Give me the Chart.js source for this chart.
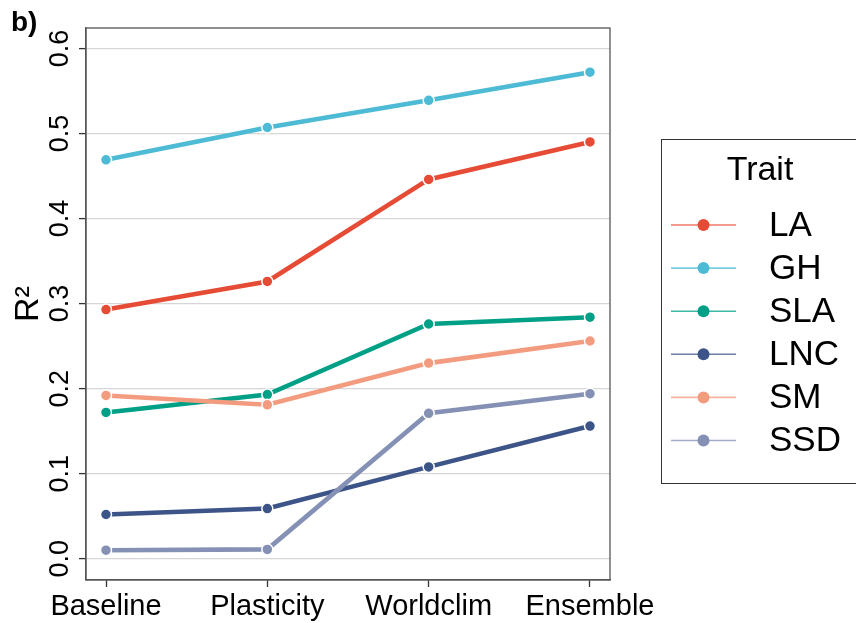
<!DOCTYPE html>
<html>
<head>
<meta charset="utf-8">
<style>
html,body{margin:0;padding:0;background:#fff;}
#wrap{width:856px;height:623px;position:relative;}
</style>
<script src="https://cdn.jsdelivr.net/npm/chart.js@4/dist/chart.umd.min.js"></script>
</head>
<body>
<div id="wrap"><canvas id="c" width="856" height="623"></canvas></div>
<script>
// ---- data ----
const categories = ["Baseline", "Plasticity", "Worldclim", "Ensemble"];
const traits = ["LA", "GH", "SLA", "LNC", "SM", "SSD"];
const colors = ["#E64B35", "#4DBBD5", "#00A087", "#3C5488", "#F39B7F", "#8491B4"];
const LA  = [0.293, 0.326, 0.446, 0.490];
const GH  = [0.469, 0.507, 0.539, 0.572];
const SLA = [0.172, 0.193, 0.276, 0.284];
const LNC = [0.052, 0.059, 0.108, 0.156];
const SM  = [0.192, 0.181, 0.230, 0.256];
const SSD = [0.010, 0.011, 0.171, 0.194];
const seriesValues = [LA, GH, SLA, LNC, SM, SSD];
const yTicks = [0.0, 0.1, 0.2, 0.3, 0.4, 0.5, 0.6];
const yTickLabels = ["0.0", "0.1", "0.2", "0.3", "0.4", "0.5", "0.6"];

const FONT = "'Liberation Sans', Arial, Helvetica, sans-serif";
Chart.defaults.font.family = FONT;
Chart.defaults.color = "#000";

const datasets = traits.map((t, i) => ({
  label: t,
  data: seriesValues[i].map((v, j) => ({x: j, y: v})),
  borderColor: colors[i],
  backgroundColor: colors[i],
  pointBackgroundColor: colors[i],
  pointBorderColor: "#ffffff",
  pointBorderWidth: 1.5,
  pointRadius: 5.5,
  borderWidth: 4.6,
  tension: 0,
  order: traits.length - i
}));

const extras = {
  id: "extras",
  afterDraw(chart) {
    const ctx = chart.ctx;
    const a = chart.chartArea;
    ctx.save();
    // panel border
    ctx.strokeStyle = "#555";
    ctx.lineWidth = 1.3;
    ctx.strokeRect(a.left, a.top, a.right - a.left, a.bottom - a.top);
    // panel label
    ctx.fillStyle = "#000";
    ctx.font = "bold 28px " + FONT;
    ctx.textAlign = "left";
    ctx.textBaseline = "alphabetic";
    ctx.fillText("b)", 11, 31);
    // legend
    const bx = 661, by = 139, bw = 210, bh = 344;
    ctx.strokeStyle = "#333";
    ctx.lineWidth = 1;
    ctx.strokeRect(bx + 0.5, by + 0.5, bw, bh);
    ctx.font = "34px " + FONT;
    ctx.textAlign = "center";
    ctx.textBaseline = "middle";
    ctx.fillText("Trait", 760, 171);
    chart.data.datasets.forEach((ds, i) => {
      const y = 225 + i * 43.1;
      ctx.globalAlpha = 0.75;
      ctx.strokeStyle = ds.borderColor;
      ctx.lineWidth = 1.6;
      ctx.beginPath();
      ctx.moveTo(671, y);
      ctx.lineTo(736, y);
      ctx.stroke();
      ctx.globalAlpha = 1;
      ctx.fillStyle = ds.borderColor;
      ctx.beginPath();
      ctx.arc(703.5, y, 6, 0, Math.PI * 2);
      ctx.fill();
      ctx.fillStyle = "#000";
      ctx.font = "35px " + FONT;
      ctx.textAlign = "left";
      ctx.fillText(ds.label, 769, y + 1);
    });
    ctx.restore();
  }
};

new Chart(document.getElementById("c"), {
  type: "line",
  data: { datasets },
  options: {
    responsive: false,
    animation: false,
    devicePixelRatio: 1,
    layout: { padding: { top: 28, right: 246, left: 0, bottom: 0 } },
    plugins: { legend: { display: false }, tooltip: { enabled: false } },
    scales: {
      x: {
        type: "linear",
        min: -0.124,
        max: 3.124,
        afterBuildTicks(scale) { scale.ticks = categories.map((c, i) => ({value: i})); },
        afterFit(scale) { scale.height = 43; },
        ticks: {
          autoSkip: false,
          maxRotation: 0,
          padding: 3,
          color: "#000",
          font: { size: 29 },
          callback: (v) => categories[v]
        },
        grid: { drawOnChartArea: false, drawTicks: true, tickLength: 7, tickColor: "#333", tickWidth: 1.3 },
        border: { display: true, color: "#555", width: 1.3 }
      },
      y: {
        type: "linear",
        min: -0.025,
        max: 0.624,
        afterBuildTicks(scale) { scale.ticks = yTicks.map(v => ({value: v})); },
        afterFit(scale) { scale.width = 86; },
        ticks: {
          autoSkip: false,
          minRotation: 90,
          maxRotation: 90,
          crossAlign: "center",
          padding: 0,
          color: "#000",
          font: { size: 27 },
          callback: (v) => yTickLabels[yTicks.findIndex(t => Math.abs(t - v) < 1e-9)]
        },
        grid: { color: "#d6d6d6", lineWidth: 1.2, drawTicks: true, tickLength: 7, tickColor: "#333", tickWidth: 1.3 },
        border: { display: true, color: "#555", width: 1.3 },
        title: { display: true, text: "R²", color: "#000", font: { size: 34 }, padding: { top: 8, bottom: 0 } }
      }
    }
  },
  plugins: [extras]
});
</script>
</body>
</html>
